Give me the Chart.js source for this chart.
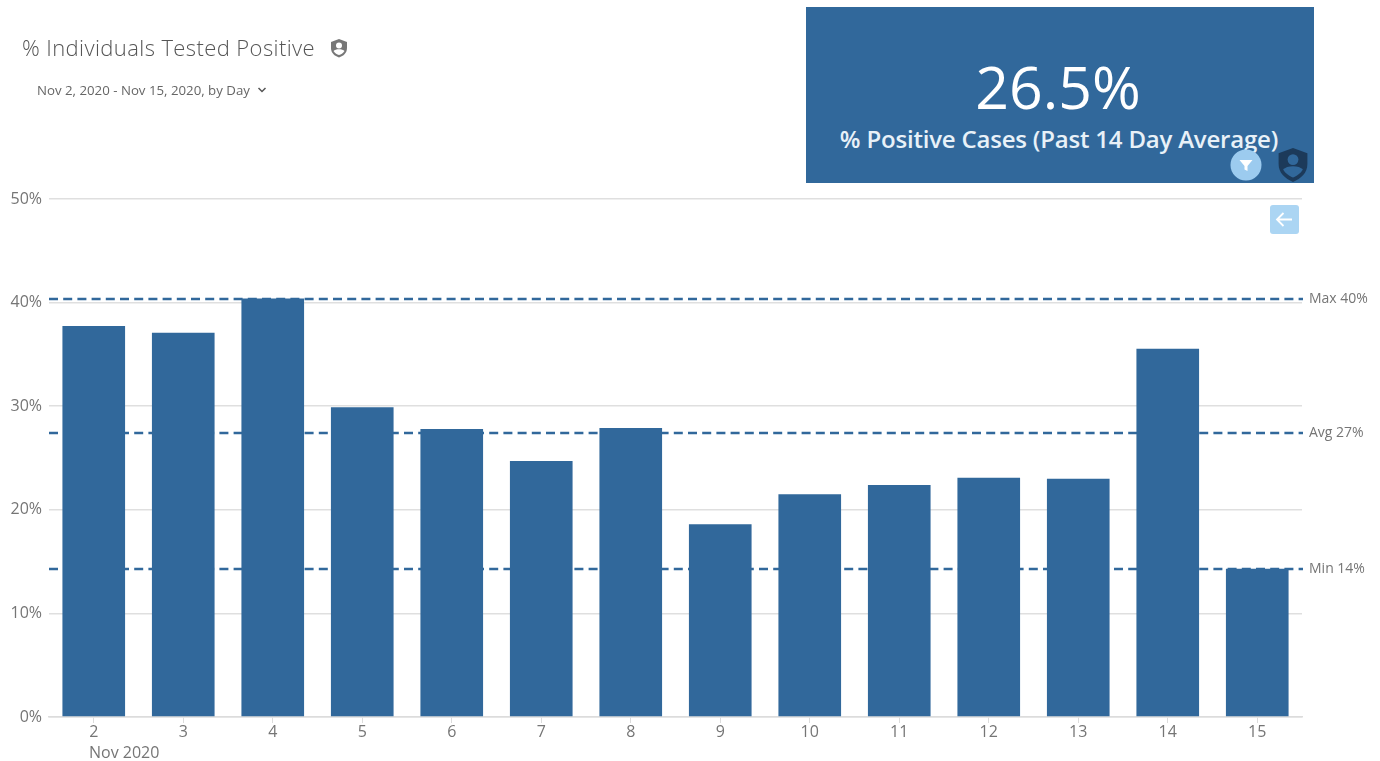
<!DOCTYPE html>
<html>
<head>
<meta charset="utf-8">
<script src="https://cdn.jsdelivr.net/npm/chart.js@4"></script>
<style>
html,body{margin:0;padding:0;background:#fff;width:1380px;height:761px;overflow:hidden;font-family:"Open Sans",sans-serif}
#wrap{position:relative;width:1380px;height:761px}
canvas{position:absolute;left:0;top:0}
.abs{position:absolute;white-space:nowrap}
#title{left:22px;top:32px;font-size:22px;font-weight:300;color:#555;line-height:30px;letter-spacing:.4px}
#range{left:37px;top:81px;font-size:13.25px;color:#666;line-height:18px}
#card{left:806px;top:7px;width:508px;height:176px;background:#31689b}
#big{left:806px;width:504px;text-align:center;top:47px;font-size:59px;line-height:78px;color:#fff}
#sub{left:807px;width:504px;text-align:center;top:122px;font-size:24px;font-weight:600;line-height:34px;color:#e8f1f8;letter-spacing:-.2px}
#month{left:89px;top:741px;font-size:16px;color:#757575;line-height:22px}
</style>
</head>
<body>
<div id="wrap">
<canvas id="c" width="1380" height="761"></canvas>
<div class="abs" id="title">% Individuals Tested Positive</div>
<svg class="abs" style="left:329px;top:38px" width="20" height="20" viewBox="0 0 20 20"><path d="M10 1l8 3v6c0 5-3.5 8-8 9.500C5.500 18 2 15 2 10V4z" fill="#777"/><circle cx="10" cy="7.500" r="3" fill="#fff"/><path d="M4.500 13c2-2.500 9-2.500 11 0-1.500 2.500-3.500 3.500-5.500 4-2-.5-4-1.500-5.500-4z" fill="#fff"/></svg>
<div class="abs" id="range">Nov 2, 2020 - Nov 15, 2020, by Day</div>
<svg class="abs" style="left:257px;top:86px" width="10" height="8" viewBox="0 0 10 8"><path d="M1.500 2l3.500 3.500L8.500 2" fill="none" stroke="#555" stroke-width="1.500"/></svg>
<div class="abs" id="card"></div>
<div class="abs" id="big">26.5%</div>
<div class="abs" id="sub">% Positive Cases (Past 14 Day Average)</div>
<svg class="abs" style="left:1230px;top:149px" width="32" height="32" viewBox="0 0 32 32"><circle cx="16" cy="16" r="15.500" fill="#9ccbef"/><path d="M9.500 11h13l-5 6v5l-3-1.500V17z" fill="#fff"/></svg>
<svg class="abs" style="left:1275px;top:146px" width="36" height="38" viewBox="0 0 20 21"><path d="M10 1l8 3v6c0 5-3.500 8-8 10C5.500 18 2 15 2 10V4z" fill="#1c3a5a"/><circle cx="10" cy="7.500" r="3" fill="#31689b"/><path d="M4.500 13c2-2.500 9-2.500 11 0-1.500 2.500-3.500 3.500-5.500 4.500-2-1-4-2-5.500-4.500z" fill="#31689b"/></svg>
<svg class="abs" style="left:1270px;top:205px" width="29" height="29" viewBox="0 0 29 29"><rect width="29" height="29" rx="3" fill="#abd5f3"/><path d="M22 14.500H7M13.500 8L7 14.500 13.500 21" fill="none" stroke="#fff" stroke-width="1.800"/></svg>
<div class="abs" id="month">Nov 2020</div>
</div>
<script>
const categories = ["2","3","4","5","6","7","8","9","10","11","12","13","14","15"];
const positivePct = [37.75,37.1,40.4,29.9,27.8,24.7,27.9,18.6,21.5,22.4,23.1,23.0,35.55,14.3];
const refValues = [40.35,27.4,14.3];
const refLabels = ["Max 40%","Avg 27%","Min 14%"];
const yTicks = [0,10,20,30,40,50];

const refLines = {
  id:"refLines",
  beforeDatasetsDraw(chart){
    const {ctx,chartArea:a,scales:{y}} = chart;
    ctx.save();
    ctx.strokeStyle="#31689b";
    ctx.lineWidth=2.3;
    ctx.setLineDash([9,5.2]);
    refValues.forEach(v=>{
      const p=Math.round(y.getPixelForValue(v));
      ctx.beginPath();ctx.moveTo(a.left,p);ctx.lineTo(a.right+1,p);ctx.stroke();
    });
    ctx.restore();
  },
  afterDraw(chart){
    const {ctx,chartArea:a,scales:{y}} = chart;
    ctx.save();
    ctx.font='14px "Open Sans"';
    ctx.fillStyle="#757575";
    ctx.textBaseline="middle";
    refValues.forEach((v,i)=>ctx.fillText(refLabels[i],a.right+7,Math.round(y.getPixelForValue(v))));
    ctx.restore();
  }
};

new Chart(document.getElementById("c"),{
  type:"bar",
  data:{labels:categories,datasets:[{data:positivePct,backgroundColor:"#31689b",barPercentage:0.7,categoryPercentage:1,borderWidth:0}]},
  plugins:[refLines],
  options:{
    responsive:false,animation:false,
    layout:{padding:{left:0,right:78,top:199,bottom:0}},
    plugins:{legend:{display:false},tooltip:{enabled:false}},
    scales:{
      x:{
        afterFit(s){s.height=44;},
        grid:{offset:false,drawOnChartArea:false,drawTicks:true,tickLength:6,color:"#dcdcdc"},
        border:{color:"#dcdcdc",width:1.5},
        ticks:{color:"#757575",font:{family:"Open Sans",size:16},padding:0,maxRotation:0,autoSkip:false}
      },
      y:{
        min:0,max:50,
        afterFit(s){s.width=49;},
        afterBuildTicks(s){s.ticks=yTicks.map(v=>({value:v}));},
        grid:{color:"#dfdfdf",lineWidth:1.5,drawTicks:false},
        border:{display:false},
        ticks:{color:"#757575",font:{family:"Open Sans",size:16},padding:7,callback:v=>v+"%"}
      }
    }
  }
});
</script>
</body>
</html>
